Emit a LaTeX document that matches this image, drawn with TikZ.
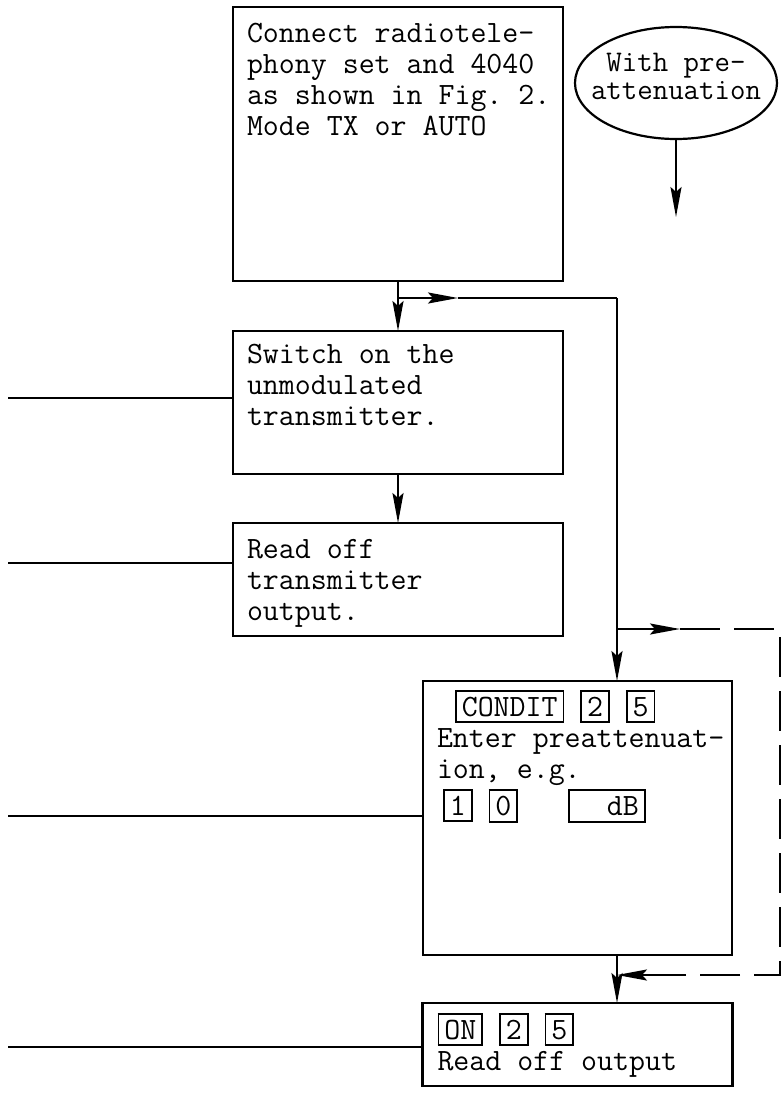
\documentclass[tikz,border=0pt]{standalone}
\usepackage{tikz}
\usetikzlibrary{arrows.meta,positioning,shapes.geometric}

\setlength{\fboxsep}{5pt}
\setlength{\fboxrule}{1.8pt}
\newcommand{\keycap}[1]{\fbox{#1}}

\begin{document}
\begin{tikzpicture}[
  x=1pt, y=-1pt,
  >={Stealth[length=30pt,width=11pt,inset=5pt]},
  box/.style={draw, line width=2.6pt, outer sep=0pt, inner sep=0pt, anchor=north west},
  oval/.style={ellipse, draw, line width=2.2pt, inner sep=0pt,
    minimum width=202pt, minimum height=112pt},
  txt/.style={inner sep=0pt, outer sep=0pt, anchor=north west, align=left,
    font=\fontsize{31}{31}\selectfont\ttfamily},
  wire/.style={line width=2.3pt},
  arr/.style={wire, ->},
  dashwire/.style={wire, dash pattern=on 40pt off 14pt},
]
\useasboundingbox (0,0) rectangle (783,1095);

% Boxes
\node[box, minimum width=330pt, minimum height=274pt] (connect) at (233,7) {};
\node[box, minimum width=330pt, minimum height=143pt, below=50pt of connect] (switchon) {};
\node[box, minimum width=330pt, minimum height=113pt, below=49pt of switchon] (readtx) {};
\node[box, minimum width=309pt, minimum height=274pt] (condit) at (423,681) {};
\node[box, minimum width=310pt, minimum height=83pt, below=48pt of condit] (readout) {};
\node[oval] (preatt) at (676,83) {};

% Texts
\node[txt, below right=16pt and 14pt of connect.north west] (connecttxt)
  {Connect radiotele-\\phony set and 4040\\as shown in Fig.\ 2.\\Mode TX or AUTO};
\node[txt, below right=13pt and 14pt of switchon.north west] (switchontxt)
  {Switch on the\\unmodulated\\transmitter.};
\node[txt, below right=16pt and 14pt of readtx.north west] (readtxtxt)
  {Read off\\transmitter\\output.};
\node[txt, below right=9pt and 14pt of condit.north west] (condittxt)
  {\hspace*{18pt}\keycap{CONDIT} \keycap{2} \keycap{5}\\
   Enter preattenuat-\\
   ion, e.g.\\[3pt]
   \hspace*{6pt}\keycap{1} \keycap{0}\hspace*{50pt}\keycap{\phantom{00}dB}};
\node[txt, below right=10pt and 15pt of readout.north west] (readouttxt)
  {\keycap{ON} \keycap{2} \keycap{5}\\Read off output};
\node[txt, anchor=center, align=center, font=\fontsize{30}{28}\selectfont\ttfamily]
  (preatttxt) at ([yshift=7pt]preatt.center) {With pre-\\attenuation};

% Lead-ins from the left
\coordinate (l2) at (8,398);
\coordinate (l3) at (8,563);
\coordinate (l4) at (8,816);
\coordinate (l5) at (8,1047);
\draw[wire] (l2) -- (l2 -| switchon.west);
\draw[wire] (l3) -- (l3 -| readtx.west);
\draw[wire] (l4) -- (l4 -| condit.west);
\draw[wire] (l5) -- (l5 -| readout.west);

% Main flow
\coordinate (j1) at (398,298);
\coordinate (m1) at (458,298);
\coordinate (c1) at (617,298);
\coordinate (oe) at (676,217);
\draw[arr] (connect) -- (switchon);
\draw[arr] (switchon) -- (readtx);
\draw[arr] (j1) -- (m1);
\draw[wire] (m1) -- (c1);
\draw[arr] (c1) -- (c1 |- condit.north);
\draw[arr] (c1 |- condit.south) -- (c1 |- readout.north);
\draw[arr] (preatt) -- (oe);

% Bypass loop
\coordinate (j2) at (617,629);
\coordinate (m2) at (680,629);
\coordinate (r1) at (780,629);
\coordinate (r2) at (780,975);
\coordinate (m3) at (653,975);
\coordinate (j3) at (617,975);
\draw[arr] (j2) -- (m2);
\draw[dashwire] (m2) -- (r1) -- (r2) -- (m3);
\draw[arr] (m3) -- (j3);
\end{tikzpicture}
\end{document}
